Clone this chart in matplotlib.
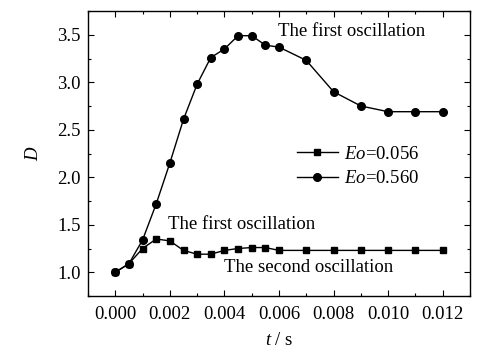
import matplotlib
matplotlib.use("Agg")
import matplotlib.pyplot as plt
from matplotlib.ticker import MultipleLocator

plt.rcParams['font.family'] = ['Liberation Serif', 'DejaVu Serif']
plt.rcParams['mathtext.fontset'] = 'custom'
plt.rcParams['mathtext.it'] = 'Liberation Serif:italic'
plt.rcParams['mathtext.rm'] = 'Liberation Serif'

t_056 = [0.0, 0.0005, 0.001, 0.0015, 0.002, 0.0025, 0.003, 0.0035, 0.004, 0.0045,
         0.005, 0.0055, 0.006, 0.007, 0.008, 0.009, 0.010, 0.011, 0.012]
d_056 = [1.00, 1.09, 1.25, 1.35, 1.33, 1.23, 1.19, 1.19, 1.23, 1.25,
         1.26, 1.26, 1.23, 1.23, 1.23, 1.23, 1.23, 1.23, 1.23]
t_560 = [0.0, 0.0005, 0.001, 0.0015, 0.002, 0.0025, 0.003, 0.0035, 0.004, 0.0045,
         0.005, 0.0055, 0.006, 0.007, 0.008, 0.009, 0.010, 0.011, 0.012]
d_560 = [1.00, 1.09, 1.34, 1.72, 2.15, 2.61, 2.98, 3.26, 3.35, 3.49,
         3.49, 3.39, 3.37, 3.23, 2.90, 2.75, 2.69, 2.69, 2.69]
labels = ['$Eo$=0.056', '$Eo$=0.560']

fig = plt.figure(figsize=(4.85, 3.55), dpi=100)
ax = fig.add_axes([88/485, 1 - 296/355, (470 - 88)/485, (296 - 11)/355])

ax.plot(t_056, d_056, '-s', color='black', lw=1.0, ms=4.5, label=labels[0])
ax.plot(t_560, d_560, '-o', color='black', lw=1.0, ms=5.5, label=labels[1])

ax.set_xlim(-0.001, 0.013)
ax.set_ylim(0.75, 3.75)
ax.xaxis.set_major_locator(MultipleLocator(0.002))
ax.xaxis.set_minor_locator(MultipleLocator(0.001))
ax.yaxis.set_major_locator(MultipleLocator(0.5))
ax.yaxis.set_minor_locator(MultipleLocator(0.25))
ax.xaxis.set_major_formatter(matplotlib.ticker.FormatStrFormatter('%.3f'))
ax.yaxis.set_major_formatter(matplotlib.ticker.FormatStrFormatter('%.1f'))
ax.tick_params(which='both', direction='in', top=True, right=True, labelsize=13.5)
ax.tick_params(axis='x', pad=7)
ax.tick_params(axis='y', pad=5)
ax.tick_params(which='major', length=4.5, width=0.8)
ax.tick_params(which='minor', length=2.5, width=0.8)
for s in ax.spines.values():
    s.set_linewidth(1.0)

ax.set_xlabel('$t$ / s', fontsize=13.5, labelpad=7)
ax.set_ylabel('$D$', fontsize=13.5, labelpad=11)

ax.legend(loc='center left', bbox_to_anchor=(0.502, 0.455), frameon=False,
          fontsize=13.5, handlelength=2.2, handletextpad=0.3, labelspacing=0.4)

ax.text(0.00866, 3.53, 'The first oscillation', fontsize=13.5, ha='center', va='center')
ax.text(0.00464, 1.50, 'The first oscillation', fontsize=13.5, ha='center', va='center')
ax.text(0.00707, 1.05, 'The second oscillation', fontsize=13.5, ha='center', va='center')

fig.savefig('out.png', dpi=100)
